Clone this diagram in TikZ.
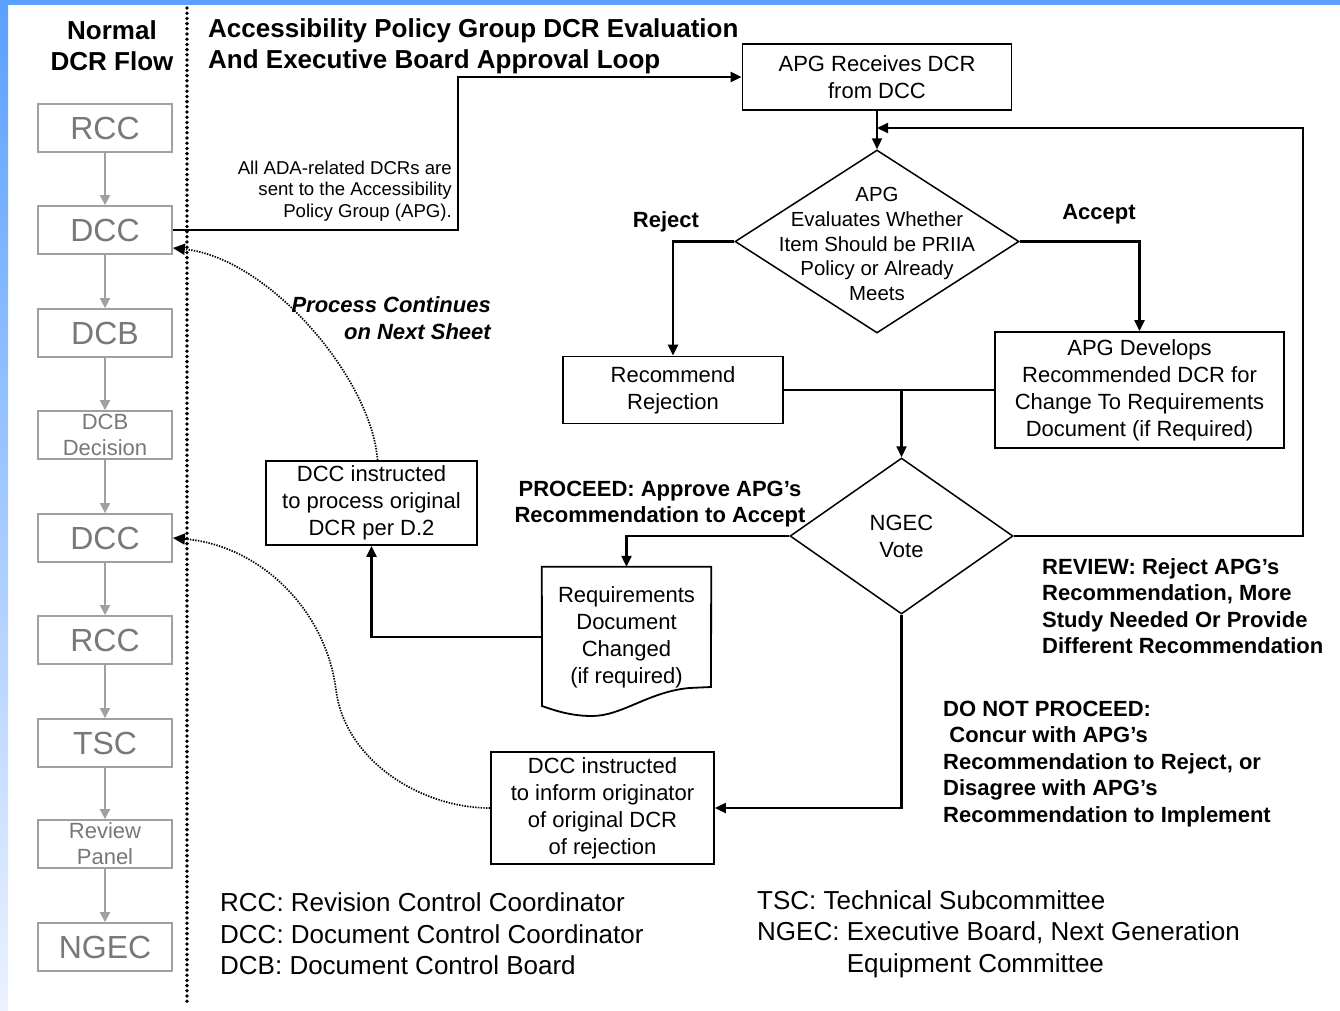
\documentclass[tikz,border=0pt]{standalone}
\usepackage{fontspec}
\setmainfont{Liberation Sans}
\usetikzlibrary{shapes.geometric,arrows.meta}

\definecolor{bandblue}{RGB}{91,160,255}
\definecolor{paleblue}{RGB}{235,242,255}
\definecolor{flowgray}{RGB}{160,160,160}
\definecolor{labelgray}{RGB}{120,120,120}

\tikzset{
  oldbox/.style={draw=flowgray, line width=1.8pt, text=labelgray, minimum width=134pt, minimum height=48pt, inner sep=0pt, align=center, font=\fontsize{32}{36}\selectfont},
  oldsmall/.style={font=\fontsize{22}{26}\selectfont},
  oldarrow/.style={draw=flowgray, line width=1.8pt, -{Triangle[length=10pt,width=10pt]}},
  procbox/.style={draw, line width=1.8pt, align=center, inner sep=0pt, font=\fontsize{22}{27}\selectfont},
  decision/.style={draw, diamond, line width=1.5pt, inner sep=0pt},
  flow/.style={line width=2.2pt, -{Triangle[length=11pt,width=10pt]}},
  link/.style={line width=2.2pt},
  jump/.style={line width=1.7pt, dash pattern=on 1.4pt off 1.3pt, -{Triangle[length=12pt,width=11pt]}},
  note/.style={inner sep=0pt, font=\fontsize{22}{26.5}\selectfont\bfseries},
  heading/.style={inner sep=0pt, font=\fontsize{26}{31}\selectfont\bfseries},
  legend/.style={inner sep=0pt, align=left, anchor=west, font=\fontsize{26}{31.5}\selectfont},
}

\begin{document}
\begin{tikzpicture}[x=1pt, y=-1pt]
    % Background and frame
    \useasboundingbox (0,0) rectangle (1340,1010);
    \fill[white] (0,0) rectangle (1340,1010);
    \shade[top color=bandblue, bottom color=paleblue] (0,0) rectangle (8,1010);
    \fill[bandblue] (0,0) rectangle (1340,5);
    \draw[line width=3.8pt, line cap=round, dash pattern=on 0pt off 5.2pt] (187,8) -- (187,1005);

    % Headings
    \node[heading, align=center] (normalhead) at (112,46) {Normal\\DCR Flow};
    \node[heading, align=left, anchor=west] (loophead) at (208,46) {Accessibility Policy Group DCR Evaluation\\And Executive Board Approval Loop};

    % Normal DCR flow
    \node[oldbox] (rcc1) at (105,128) {RCC};
    \node[oldbox] (dcc1) at (105,230) {DCC};
    \node[oldbox] (dcb) at (105,333) {DCB};
    \node[oldbox, oldsmall] (dcbdecision) at (105,435) {DCB\\Decision};
    \node[oldbox] (dcc2) at (105,538) {DCC};
    \node[oldbox] (rcc2) at (105,640) {RCC};
    \node[oldbox] (tsc) at (105,743) {TSC};
    \node[oldbox, oldsmall] (panel) at (105,844) {Review\\Panel};
    \node[oldbox] (ngecold) at (105,947) {NGEC};
    \draw[oldarrow] (rcc1) -- (dcc1);
    \draw[oldarrow] (dcc1) -- (dcb);
    \draw[oldarrow] (dcb) -- (dcbdecision);
    \draw[oldarrow] (dcbdecision) -- (dcc2);
    \draw[oldarrow] (dcc2) -- (rcc2);
    \draw[oldarrow] (rcc2) -- (tsc);
    \draw[oldarrow] (tsc) -- (panel);
    \draw[oldarrow] (panel) -- (ngecold);

    % APG evaluation
    \node[procbox, minimum width=269pt, minimum height=66pt] (receive) at (877,77) {APG Receives DCR\\from DCC};
    \node[decision, minimum width=284pt, minimum height=183pt] (evaluate) at (877,241.5) {};
    \node[inner sep=0pt, align=center, font=\fontsize{20.4}{24.8}\selectfont] (evaltext) at (877,244) {APG\\Evaluates Whether\\Item Should be PRIIA\\Policy or Already\\Meets};
    \node[procbox, minimum width=220pt, minimum height=67pt] (rejectbox) at (673,390) {Recommend\\Rejection};
    \node[procbox, minimum width=289pt, minimum height=116pt] (develop) at (1139.5,390) {APG Develops\\Recommended DCR for\\Change To Requirements\\Document (if Required)};

    % Executive board vote
    \node[decision, minimum width=223pt, minimum height=156pt, align=center, font=\fontsize{22}{27}\selectfont] (vote) at (901.5,536) {NGEC\\Vote};
    \node[inner sep=0pt, align=center, minimum width=169pt, minimum height=140pt, font=\fontsize{22}{27}\selectfont] (changed) at (626.5,637) {Requirements\\Document\\Changed\\(if required)};
    \draw[line width=1.8pt] (changed.north west) -- (changed.north east) -- (711,687) -- (689,688)
        .. controls (648,692) and (622,716) .. (592,716) .. controls (572,716) and (556,711) .. (542,706) -- cycle;
    \node[procbox, minimum width=211pt, minimum height=84pt] (process) at (371.5,503) {DCC instructed\\to process original\\DCR per D.2};
    \node[procbox, minimum width=223pt, minimum height=112pt] (inform) at (602.5,808) {DCC instructed\\to inform originator\\of original DCR\\of rejection};

    % Labels
    \node[inner sep=0pt, align=right, anchor=east, font=\fontsize{18.6}{21.5}\selectfont] (adanote) at (452,191) {All ADA-related DCRs are\\sent to the Accessibility\\Policy Group (APG).};
    \node[note, align=right, anchor=east, font=\fontsize{22}{26.5}\selectfont\bfseries\itshape] (continues) at (491,318) {Process Continues\\on Next Sheet};
    \node[note] (rejectlabel) at (666,222) {Reject};
    \node[note] (acceptlabel) at (1099,214) {Accept};
    \node[note, align=center] (proceed) at (660,504) {PROCEED: Approve APG’s\\Recommendation to Accept};
    \node[note, align=left, anchor=west] (review) at (1042,606) {REVIEW: Reject APG’s\\Recommendation, More\\Study Needed Or Provide\\Different Recommendation};
    \node[note, align=left, anchor=west] (notproceed) at (943,764) {DO NOT PROCEED:\\\hspace*{0.28em}Concur with APG’s\\Recommendation to Reject, or\\Disagree with APG’s\\Recommendation to Implement};

    % Connectors
    \draw[flow] (dcc1.east) -- ++(285,0) |- (receive.west);
    \draw[flow] (receive.south) -- (evaluate.north);
    \draw[flow] (evaluate.west) -| (rejectbox.north);
    \draw[flow] (evaluate.east) -| (develop.north);
    \draw[link] (rejectbox.east) -- (develop.west);
    \coordinate (merge) at (vote.north |- rejectbox.east);
    \draw[flow] (merge) -- (vote.north);
    \draw[flow] (vote.west) -| (changed.north);
    \draw[flow] (changed.west) -| (process.south);
    \draw[flow] (vote.south) |- (inform.east);
    \coordinate (loopin) at (877,128);
    \draw[flow] (vote.east) -- ++(289,0) |- (loopin);
    \draw[jump] ([xshift=6pt]process.north) .. controls (372,380) and (270,258) .. ([yshift=-18pt]dcc1.east);
    \draw[jump] (inform.west) .. controls (420,808) and (345,760) .. (336,690) .. controls (326,610) and (260,545) .. (dcc2.east);

    % Legend
    \node[legend] (legendleft) at (220,934) {RCC: Revision Control Coordinator\\DCC: Document Control Coordinator\\DCB: Document Control Board};
    \node[legend] (legendright) at (757,934) {TSC: Technical Subcommittee\\NGEC: Executive Board, Next Generation\\\phantom{NGEC: }Equipment Committee};
\end{tikzpicture}
\end{document}
